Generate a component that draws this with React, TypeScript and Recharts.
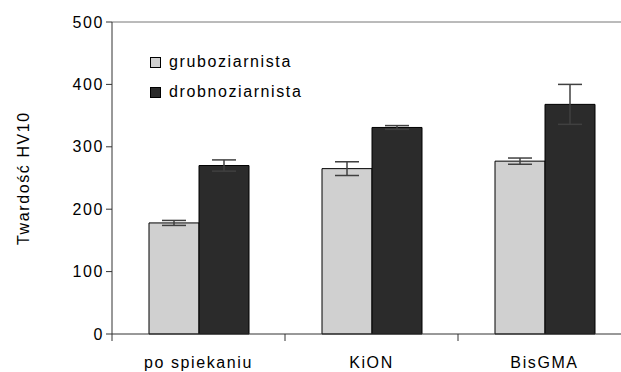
import { BarChart, Bar, XAxis, YAxis, ErrorBar, ReferenceLine } from "recharts";

const categories = ["po spiekaniu", "KiON", "BisGMA"];
const coarse = [178, 265, 277];
const coarseErr = [4, 11, 5];
const fine = [270, 331, 368];
const fineErr = [9, 3, 32];
const yTicks = [0, 100, 200, 300, 400, 500];

const legendItems = [
  { label: "gruboziarnista", color: "#d0d0d0" },
  { label: "drobnoziarnista", color: "#2b2b2b" },
];

const data = categories.map((name, i) => ({
  name,
  coarse: coarse[i],
  coarseErr: coarseErr[i],
  fine: fine[i],
  fineErr: fineErr[i],
}));

const FONT = "'Liberation Sans', Arial, sans-serif";
const FS = 16;
const LS = 1.6;

const CategoryTick = (props: any) => {
  const { x, y, payload } = props;
  const half = payload.offset ?? 0;
  return (
    <g>
      <line x1={x - half} y1={y - 8} x2={x - half} y2={y - 1} stroke="#333" />
      <text
        x={x}
        y={y + 26}
        textAnchor="middle"
        fontFamily={FONT}
        fontSize={FS}
        letterSpacing={LS}
        fill="#000"
      >
        {payload.value}
      </text>
    </g>
  );
};

export default function App() {
  return (
    <div style={{ position: "absolute", left: 0, top: 0, width: 621, height: 372, overflow: "hidden", background: "#fff" }}>
      <BarChart
        width={640}
        height={372}
        data={data}
        margin={{ top: 22, right: 9, bottom: 0, left: 0 }}
        barGap={0}
        barSize={50}
      >
        <ReferenceLine y={500} stroke="#777" />
        <XAxis
          dataKey="name"
          height={38}
          stroke="#333"
          tickLine={false}
          tick={<CategoryTick />}
          interval={0}
        />
        <YAxis
          width={112}
          domain={[0, 500]}
          ticks={yTicks}
          stroke="#333"
          tickSize={6}
          tick={{ fill: "#000", fontFamily: FONT, fontSize: FS, letterSpacing: LS }}
          label={{
            value: "Twardość HV10",
            content: (p: any) => {
              const vb = p.viewBox;
              const cx = vb.x + 23;
              const cy = vb.y + vb.height / 2;
              return (
                <text
                  x={cx}
                  y={cy}
                  transform={`rotate(-90, ${cx}, ${cy})`}
                  textAnchor="middle"
                  dominantBaseline="central"
                  fontFamily={FONT}
                  fontSize={FS}
                  letterSpacing={LS}
                  fill="#000"
                >
                  Twardość HV10
                </text>
              );
            },
          }}
        />
        <Bar dataKey="coarse" fill="#d0d0d0" stroke="#000" strokeWidth={1} isAnimationActive={false}>
          <ErrorBar dataKey="coarseErr" width={12} stroke="#404040" strokeWidth={1.5} />
        </Bar>
        <Bar dataKey="fine" fill="#2b2b2b" stroke="#000" strokeWidth={1} isAnimationActive={false}>
          <ErrorBar dataKey="fineErr" width={12} stroke="#404040" strokeWidth={1.5} />
        </Bar>
      </BarChart>
      <div
        style={{
          position: "absolute",
          left: 150,
          top: 47,
          fontFamily: FONT,
          fontSize: FS,
          letterSpacing: LS,
          color: "#000",
        }}
      >
        {legendItems.map((item) => (
          <div key={item.label} style={{ display: "flex", alignItems: "center", height: 30 }}>
            <span
              style={{
                width: 9,
                height: 9,
                background: item.color,
                border: "1px solid #000",
                marginRight: 8,
              }}
            />
            {item.label}
          </div>
        ))}
      </div>
    </div>
  );
}
